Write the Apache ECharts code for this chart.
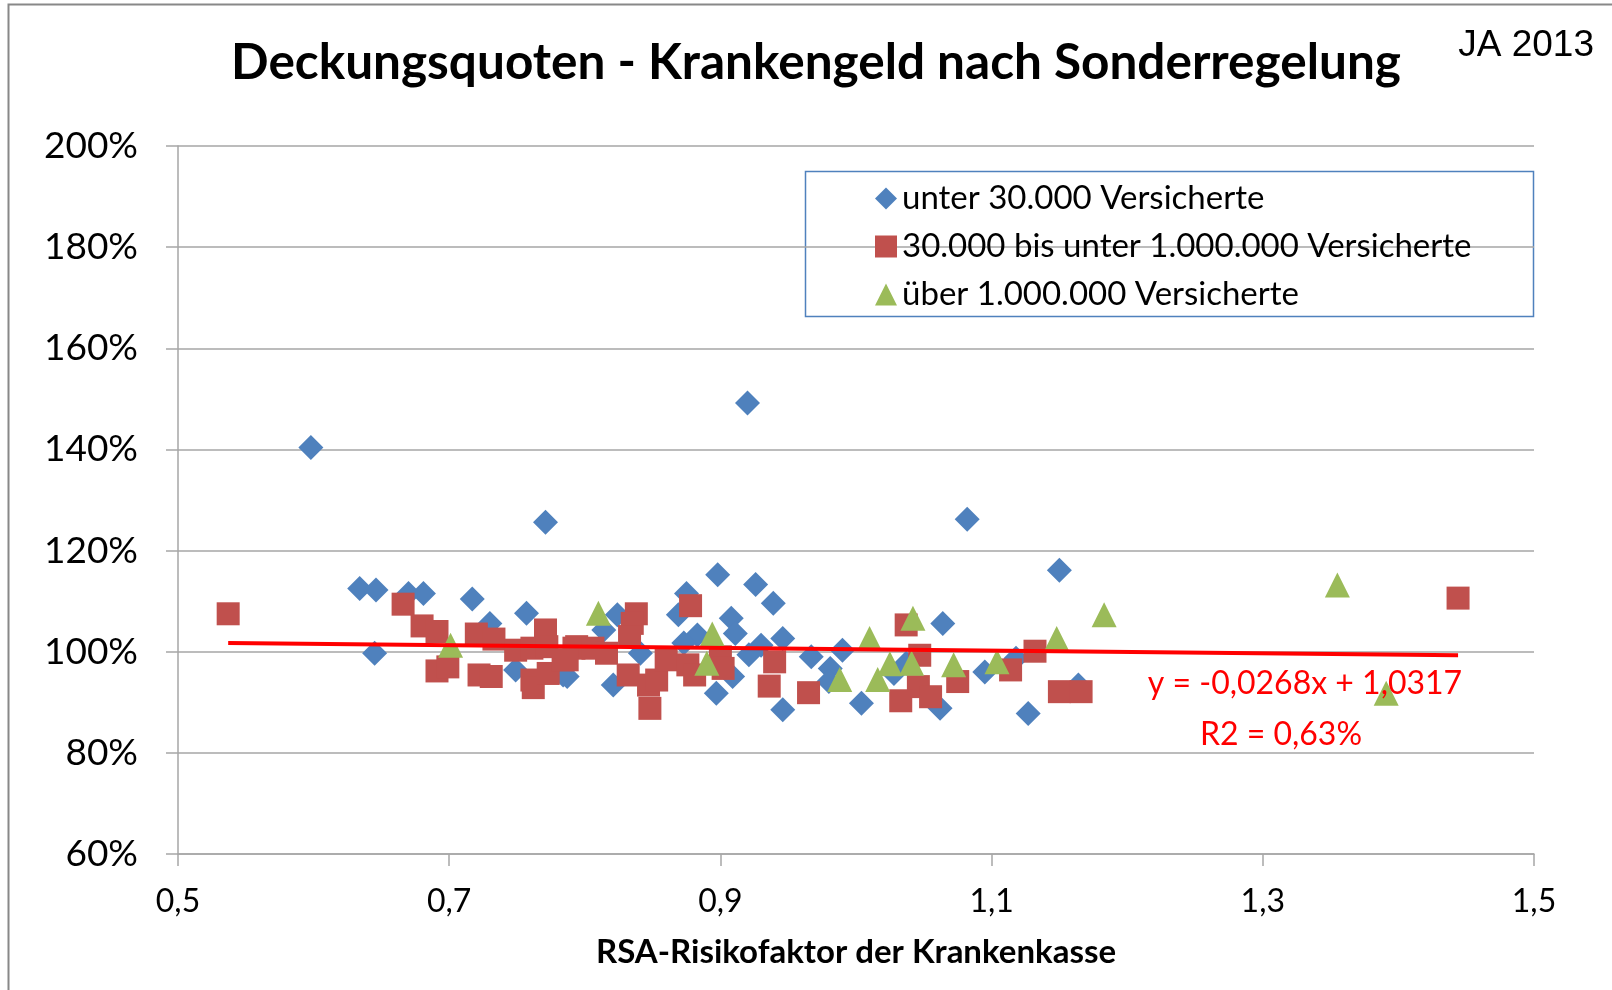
<!DOCTYPE html>
<html>
<head>
<meta charset="utf-8">
<script src="https://cdn.jsdelivr.net/npm/echarts@6/dist/echarts.min.js"></script>
<style>
html,body{margin:0;padding:0;background:#fff;}
#chart{width:1612px;height:990px;}
</style>
</head>
<body>
<div id="chart"></div>
<script>
// ---- Data ----
const seriesNames = ['unter 30.000 Versicherte', '30.000 bis unter 1.000.000 Versicherte', 'über 1.000.000 Versicherte'];

const smallX = [0.598,0.920,0.771,1.082,1.150,0.634,0.646,0.670,0.681,0.717,0.757,0.645,0.730,0.749,0.784,0.898,0.926,0.939,0.875,0.824,0.869,0.908,0.911,0.883,0.946,0.873,0.930,1.064,0.990,0.967,0.921,0.981,0.980,0.909,0.821,0.897,0.946,1.004,1.062,0.841,0.787,1.028,1.095,0.814,1.037,1.118,1.127,1.164];
const smallY = [140.4,149.2,125.6,126.2,116.1,112.5,112.2,111.5,111.5,110.4,107.6,99.7,105.6,96.4,95.4,115.2,113.3,109.6,111.5,107.3,107.3,106.6,103.6,103.3,102.6,101.7,101.3,105.6,100.3,99.0,99.4,96.7,94.1,95.1,93.4,91.8,88.5,89.8,88.8,99.7,95.1,95.7,96.0,104.3,97.7,98.7,87.8,93.4];

const midX = [0.537,0.666,0.680,0.691,0.691,0.699,0.720,0.733,0.722,0.731,0.749,0.761,0.771,0.761,0.762,0.773,0.784,0.772,0.794,0.838,0.835,0.833,0.878,0.792,0.806,0.816,0.787,0.832,0.847,0.853,0.848,0.860,0.876,0.881,0.900,0.902,0.940,0.936,0.965,1.037,1.047,1.046,1.033,1.055,1.075,1.132,1.114,1.150,1.166,1.444];
const midY = [107.5,109.4,105.1,104.0,96.2,97.0,103.5,102.5,95.4,95.1,100.3,100.7,104.3,94.4,92.9,95.7,98.4,101.0,101.0,107.5,105.6,103.0,109.1,100.7,100.7,99.7,98.4,95.4,93.4,94.4,88.8,98.4,97.4,95.4,99.0,96.7,98.0,93.2,91.9,105.3,99.3,93.1,90.3,91.1,94.1,100.1,96.4,92.1,92.1,110.6];

const bigX = [0.701,0.810,0.894,0.890,0.988,1.010,1.025,1.016,1.042,1.041,1.072,1.104,1.148,1.183,1.355,1.391];
const bigY = [101.3,107.6,103.5,97.7,94.5,102.6,97.6,94.5,106.6,97.7,97.4,98.0,102.6,107.3,113.2,91.8];

// trendline as printed on the chart: y = -0,0268x + 1,0317 ; R2 = 0,63%
const trendSlope = -0.0268;
const trendIntercept = 1.0317;
const trendText = ['y = -0,0268x + 1,0317', 'R2 = 0,63%'];

const xTicks = {min: 0.5, max: 1.5, interval: 0.2};
const yTicks = {min: 60, max: 200, interval: 20};

// ---- Build ----
const zip = (xs, ys) => xs.map((x, i) => [x, ys[i]]);
const allX = smallX.concat(midX, bigX);
const tMin = Math.min.apply(null, allX);
const tMax = Math.max.apply(null, allX);
const trendData = [[tMin, (trendSlope * tMin + trendIntercept) * 100], [tMax, (trendSlope * tMax + trendIntercept) * 100]];

const FONT = 'Lato';
const chart = echarts.init(document.getElementById('chart'), null, {renderer: 'canvas'});
chart.setOption({
  animation: false,
  backgroundColor: '#fff',
  title: {
    text: 'Deckungsquoten - Krankengeld nach Sonderregelung',
    left: 811, top: 33, textAlign: 'center',
    textStyle: {fontFamily: FONT, fontWeight: 'bold', fontSize: 49.5, color: '#000'}
  },
  grid: {left: 178, right: 78, top: 146, bottom: 136},
  legend: {
    orient: 'vertical', left: 870, top: 177,
    itemWidth: 22, itemHeight: 22, itemGap: 15,
    textStyle: {fontFamily: FONT, fontSize: 33, color: '#000'},
    data: [
      {name: seriesNames[0], icon: 'diamond'},
      {name: seriesNames[1], icon: 'rect'},
      {name: seriesNames[2], icon: 'triangle'}
    ]
  },
  xAxis: {
    type: 'value', min: xTicks.min, max: xTicks.max, interval: xTicks.interval,
    name: 'RSA-Risikofaktor der Krankenkasse', nameLocation: 'middle', nameGap: 82,
    nameTextStyle: {fontFamily: FONT, fontWeight: 'bold', fontSize: 33, color: '#000'},
    axisLine: {show: true, lineStyle: {color: '#A6A6A6', width: 1.5}},
    axisTick: {show: true, length: 12, lineStyle: {color: '#A6A6A6', width: 1.5}},
    splitLine: {show: false},
    axisLabel: {margin: 32, fontFamily: FONT, fontSize: 32, color: '#000',
      formatter: v => v.toFixed(1).replace('.', ',')}
  },
  yAxis: {
    type: 'value', min: yTicks.min, max: yTicks.max, interval: yTicks.interval,
    axisLine: {show: true, lineStyle: {color: '#A6A6A6', width: 1.5}},
    axisTick: {show: true, length: 12, lineStyle: {color: '#A6A6A6', width: 1.5}},
    splitLine: {show: true, lineStyle: {color: '#A6A6A6', width: 1.5}},
    axisLabel: {margin: 40, fontFamily: FONT, fontSize: 37, color: '#000',
      formatter: v => v + '%'}
  },
  series: [
    {name: seriesNames[0], type: 'scatter', symbol: 'diamond', symbolSize: 25,
      itemStyle: {color: '#4F81BD', opacity: 1}, data: zip(smallX, smallY), z: 2},
    {name: seriesNames[1], type: 'scatter', symbol: 'rect', symbolSize: 23,
      itemStyle: {color: '#C0504D', opacity: 1}, data: zip(midX, midY), z: 3},
    {name: seriesNames[2], type: 'scatter', symbol: 'triangle', symbolSize: 25,
      itemStyle: {color: '#9BBB59', opacity: 1}, data: zip(bigX, bigY), z: 4},
    {name: 'Trend', type: 'line', data: trendData, symbol: 'none', silent: true,
      lineStyle: {color: '#FF0000', width: 4}, z: 5}
  ],
  graphic: [
    {type: 'rect', shape: {x: 8.5, y: 4.5, width: 1700, height: 1100}, style: {fill: 'none', stroke: '#888', lineWidth: 2}, silent: true, z: -1},
    {type: 'rect', shape: {x: 805.5, y: 171.5, width: 728, height: 145}, style: {fill: 'none', stroke: '#4F81BD', lineWidth: 1.5}, silent: true},
    {type: 'text', x: 1594, y: 46, style: {text: 'JA 2013', textAlign: 'right', textVerticalAlign: 'middle', fontFamily: 'Liberation Sans', fontSize: 37, fill: '#000'}},
    {type: 'text', x: 1305, y: 684, style: {text: trendText[0], textAlign: 'center', textVerticalAlign: 'middle', fontFamily: FONT, fontSize: 32, fill: '#FF0000'}, z: 10},
    {type: 'text', x: 1281, y: 735, style: {text: trendText[1], textAlign: 'center', textVerticalAlign: 'middle', fontFamily: FONT, fontSize: 32, fill: '#FF0000'}, z: 10}
  ]
});
</script>
</body>
</html>
